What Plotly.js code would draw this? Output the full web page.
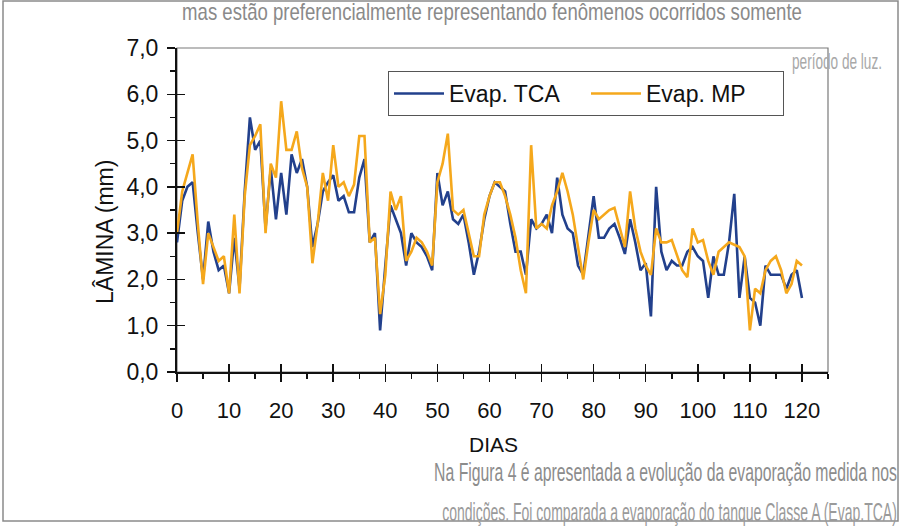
<!DOCTYPE html>
<html>
<head>
<meta charset="utf-8">
<script src="https://cdn.plot.ly/plotly-3.0.1.min.js"></script>
<style>
  html, body { margin: 0; padding: 0; background: #ffffff; }
  #chart { width: 905px; height: 528px; }
</style>
</head>
<body>
<div id="chart"></div>
<script>
// ---- data ----
const days = [0,1,2,3,4,5,6,7,8,9,10,11,12,13,14,15,16,17,18,19,20,
  21,22,23,24,25,26,27,28,29,30,31,32,33,34,35,36,37,38,39,40,
  41,42,43,44,45,46,47,48,49,50,51,52,53,54,55,56,57,58,59,60,
  61,62,63,64,65,66,67,68,69,70,71,72,73,74,75,76,77,78,79,80,
  81,82,83,84,85,86,87,88,89,90,91,92,93,94,95,96,97,98,99,100,
  101,102,103,104,105,106,107,108,109,110,111,112,113,114,115,116,117,118,119,120];

const evapTCA = [2.8,3.7,4.0,4.1,3.0,2.0,3.25,2.6,2.2,2.3,1.7,
  2.9,1.8,3.9,5.5,4.8,5.0,3.1,4.4,3.3,4.3,
  3.4,4.7,4.3,4.6,4.0,2.7,3.2,3.9,4.1,4.25,
  3.7,3.8,3.45,3.45,4.2,4.6,2.8,3.0,0.9,2.3,
  3.6,3.3,3.0,2.3,3.0,2.8,2.7,2.5,2.2,4.3,
  3.6,3.9,3.3,3.2,3.4,2.8,2.1,2.6,3.3,3.8,
  4.1,4.0,3.9,3.2,2.6,2.6,2.1,3.3,3.1,3.2,
  3.4,3.0,4.2,3.4,3.1,3.0,2.3,2.1,2.9,3.8,
  2.9,2.9,3.1,3.2,2.9,2.55,3.3,2.8,2.2,2.35,
  1.2,4.0,2.6,2.2,2.4,2.3,2.3,2.6,2.7,2.5,
  2.4,1.6,2.5,2.1,2.1,2.8,3.85,1.6,2.5,1.6,
  1.5,1.0,2.3,2.1,2.1,2.1,1.8,2.1,2.2,1.6];

const evapMP = [3.0,3.9,4.3,4.7,3.2,1.9,3.0,2.7,2.4,2.5,1.7,
  3.4,1.7,3.8,4.9,5.1,5.35,3.0,4.5,4.2,5.85,
  4.8,4.8,5.2,4.4,4.0,2.35,3.2,4.3,3.7,4.9,
  4.0,4.1,3.8,4.05,5.1,5.1,2.8,2.9,1.25,2.1,
  3.9,3.5,3.8,2.4,2.6,2.9,2.8,2.6,2.3,4.1,
  4.5,5.15,3.5,3.4,3.5,3.0,2.5,2.5,3.4,3.8,
  4.1,4.1,3.8,3.4,2.9,2.2,1.7,4.9,3.1,3.2,
  3.1,3.6,3.9,4.3,3.9,3.4,2.7,2.0,2.8,3.5,
  3.3,3.4,3.5,3.55,3.1,2.7,3.9,3.1,2.6,2.3,
  2.1,3.1,2.8,2.8,2.85,2.5,2.2,2.05,3.1,2.8,
  2.85,2.4,2.1,2.6,2.7,2.8,2.75,2.7,2.5,0.9,
  1.8,1.7,2.2,2.4,2.5,2.2,1.7,1.9,2.4,2.3];

const seriesNames = ['Evap. TCA', 'Evap. MP'];
const xTickVals = [0,10,20,30,40,50,60,70,80,90,100,110,120];
const yTickVals = [0,1,2,3,4,5,6,7];
const xTitle = 'DIAS';
const yTitle = 'LÂMINA (mm)';

// text of the scanned page that surrounds the figure
const pageTexts = [
  'mas estão preferencialmente representando fenômenos ocorridos somente',
  'período de luz.',
  'Na Figura 4 é apresentada a evolução da evaporação medida nos',
  'condições. Foi comparada a evaporação do tanque Classe A (Evap.TCA)'
];

// ---- geometry helpers (pixel -> paper) ----
const PL = 177, PR = 828, PT = 48, PB = 372;
const px = v => (v - PL) / (PR - PL);
const py = v => (PB - v) / (PB - PT);

const FONT = 'Liberation Sans, Arial, sans-serif';
const INK = '#111111';

const traces = [
  { x: days, y: evapTCA, name: seriesNames[0], type: 'scatter', mode: 'lines',
    line: { color: '#22408c', width: 2.6 } },
  { x: days, y: evapMP, name: seriesNames[1], type: 'scatter', mode: 'lines',
    line: { color: '#f5a81c', width: 2.6 } },
  // empty traces that switch on the overlay axes drawing the inner half of the crossing ticks
  { x: [], y: [], xaxis: 'x2', yaxis: 'y', showlegend: false, hoverinfo: 'skip' },
  { x: [], y: [], xaxis: 'x', yaxis: 'y2', showlegend: false, hoverinfo: 'skip' }
];

// page text placement: [left px, centre y px, target width px, font size, colour]
const pageTextPlace = [
  [180, 12, 620, 23, '#8a8a8a'],
  [790, 62, 90, 22, '#a8a8a8'],
  [432, 472, 463, 25, '#8c8c8c'],
  [440, 512, 455, 25, '#9a9a9a']
];

const pageAnnots = pageTexts.map((t, i) => ({
  text: t, xref: 'paper', yref: 'paper', x: px(pageTextPlace[i][0]), y: py(pageTextPlace[i][1]),
  xanchor: 'left', yanchor: 'middle', showarrow: false,
  font: { family: FONT, size: pageTextPlace[i][3], color: pageTextPlace[i][4] }
}));

const layout = {
  width: 905, height: 528,
  margin: { l: PL, r: 905 - PR, t: PT, b: 528 - PB, pad: 0 },
  paper_bgcolor: '#ffffff', plot_bgcolor: '#ffffff',
  separators: ',.',
  font: { family: FONT, size: 22, color: INK },
  showlegend: true,
  legend: {
    orientation: 'h', x: px(388), xanchor: 'left', y: py(71), yanchor: 'top',
    bgcolor: '#ffffff', bordercolor: '#555555', borderwidth: 1,
    font: { family: FONT, size: 23, color: INK },
    itemwidth: 50, entrywidth: 132, entrywidthmode: 'pixels'
  },
  xaxis: {
    range: [0, 125], tickvals: xTickVals, ticks: 'outside', ticklen: 8, tickwidth: 1.5,
    tickcolor: INK, showline: true, linecolor: INK, linewidth: 2,
    showgrid: false, zeroline: false, ticklabelstandoff: 10,
    tickfont: { family: FONT, size: 22, color: INK },
    minor: { dtick: 5, tick0: 0, ticks: 'outside', ticklen: 5, tickwidth: 1.5, tickcolor: INK, showgrid: false }
  },
  yaxis: {
    range: [0, 7], tickvals: yTickVals, tickformat: '.1f', ticks: 'outside', ticklen: 8, tickwidth: 1.5,
    tickcolor: INK, showline: true, linecolor: INK, linewidth: 2,
    showgrid: false, zeroline: false, ticklabelstandoff: 4,
    tickfont: { family: FONT, size: 23, color: INK },
    minor: { dtick: 0.5, tick0: 0, ticks: 'outside', ticklen: 5, tickwidth: 1.5, tickcolor: INK, showgrid: false }
  },
  xaxis2: {
    overlaying: 'x', anchor: 'y', side: 'bottom', range: [0, 125], tickvals: xTickVals,
    ticks: 'inside', ticklen: 8, tickwidth: 1.5, tickcolor: INK,
    showticklabels: false, showline: false, showgrid: false, zeroline: false
  },
  yaxis2: {
    overlaying: 'y', anchor: 'x', side: 'left', range: [0, 7], tickvals: yTickVals,
    ticks: 'inside', ticklen: 8, tickwidth: 1.5, tickcolor: INK,
    showticklabels: false, showline: false, showgrid: false, zeroline: false
  },
  shapes: [
    { type: 'rect', xref: 'paper', yref: 'paper', x0: 0, x1: 1, y0: 0, y1: 1,
      line: { color: '#7a7a7a', width: 1.2 }, layer: 'below' },
    { type: 'rect', xref: 'paper', yref: 'paper', x0: px(3), x1: px(898), y0: py(521), y1: py(1),
      line: { color: '#8a8a8a', width: 1.5 }, layer: 'below' }
  ],
  annotations: [
    { text: xTitle, xref: 'paper', yref: 'paper', x: px(493), y: py(444),
      xanchor: 'center', yanchor: 'middle', showarrow: false,
      font: { family: FONT, size: 21, color: INK } },
    { text: yTitle, xref: 'paper', yref: 'paper', x: px(105), y: py(232), textangle: -90,
      xanchor: 'center', yanchor: 'middle', showarrow: false,
      font: { family: FONT, size: 23, color: INK } }
  ].concat(pageAnnots)
};

Plotly.newPlot('chart', traces, layout, { displayModeBar: false, staticPlot: true }).then(gd => {
  // the scanned page uses a condensed face: squeeze each page text to its width in the scan
  const groups = gd.querySelectorAll('g.annotation');
  groups.forEach(g => {
    const idx = +g.getAttribute('data-index');
    const k = idx - 2;
    if (k < 0 || k >= pageTextPlace.length) return;
    const t = g.querySelector('text.annotation-text');
    if (!t) return;
    const bb = t.getBBox();
    const s = pageTextPlace[k][2] / bb.width;
    t.setAttribute('transform', `translate(${bb.x},0) scale(${s},1) translate(${-bb.x},0)`);
  });
});
</script>
</body>
</html>
